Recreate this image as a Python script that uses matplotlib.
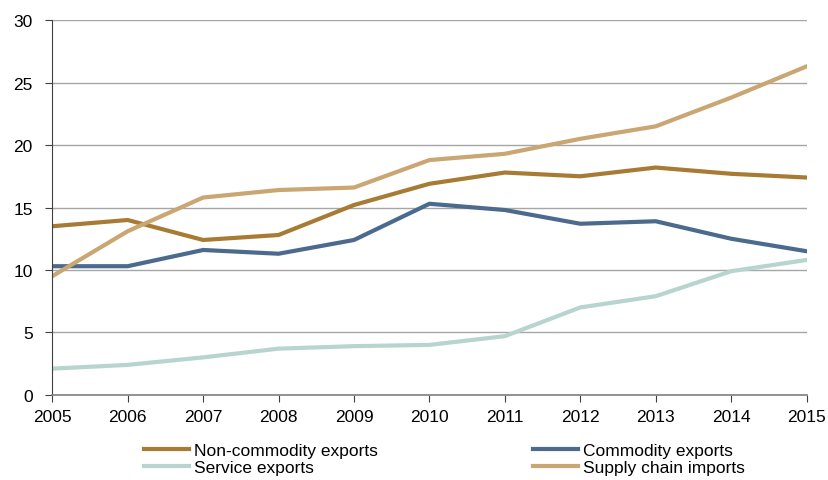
import matplotlib.pyplot as plt

plt.rcParams['font.family'] = ['Liberation Sans', 'DejaVu Sans']

years = [2005, 2006, 2007, 2008, 2009, 2010, 2011, 2012, 2013, 2014, 2015]
non_commodity = [13.5, 14.0, 12.4, 12.8, 15.2, 16.9, 17.8, 17.5, 18.2, 17.7, 17.4]
commodity = [10.3, 10.3, 11.6, 11.3, 12.4, 15.3, 14.8, 13.7, 13.9, 12.5, 11.5]
service = [2.1, 2.4, 3.0, 3.7, 3.9, 4.0, 4.7, 7.0, 7.9, 9.9, 10.8]
supply_chain = [9.5, 13.1, 15.8, 16.4, 16.6, 18.8, 19.3, 20.5, 21.5, 23.8, 26.3]

fig = plt.figure(figsize=(8.29, 4.81), dpi=100)
ax = fig.add_axes([0.063, 0.177, 0.91, 0.779])

lw = 3
l1, = ax.plot(years, non_commodity, color='#a87b35', lw=lw, label='Non-commodity exports')
l2, = ax.plot(years, commodity, color='#4b6a8d', lw=lw, label='Commodity exports')
l3, = ax.plot(years, service, color='#b8d4ce', lw=lw, label='Service exports')
l4, = ax.plot(years, supply_chain, color='#c9a672', lw=lw, label='Supply chain imports')

ax.set_xlim(2005, 2015)
ax.set_ylim(0, 30)
ax.set_xticks(years)
ax.set_yticks(range(0, 31, 5))
ax.yaxis.grid(True, color='#a6a6a6', lw=1)
ax.set_axisbelow(True)
for s in ['top', 'right']:
    ax.spines[s].set_visible(False)
ax.spines['left'].set_color('#404040')
ax.spines['bottom'].set_color('#808080')
ax.spines['bottom'].set_linewidth(1.2)
ax.tick_params(axis='both', labelsize=12.5, colors='#404040', labelcolor='black', length=5)
ax.tick_params(axis='x', pad=5)
ax.tick_params(axis='y', pad=9)

fig.legend([l1, l3, l2, l4], ['Non-commodity exports', 'Service exports', 'Commodity exports', 'Supply chain imports'],
           ncol=2, loc='lower left', bbox_to_anchor=(0.155, -0.022), frameon=False, fontsize=12.5,
           handlelength=2.6, handletextpad=0.3, columnspacing=8.9, labelspacing=0.1)

fig.savefig('out.png', dpi=100)
